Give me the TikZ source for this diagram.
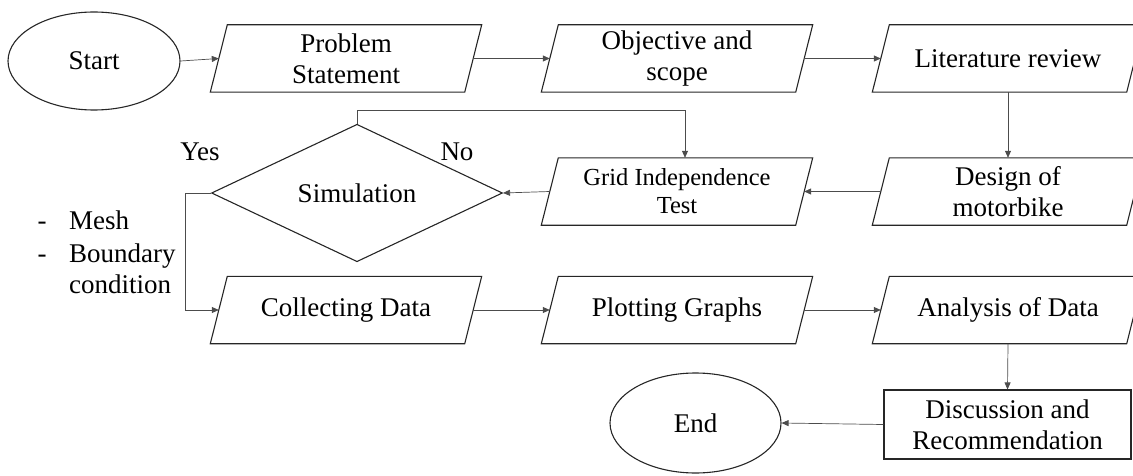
\documentclass[tikz,border=0pt]{standalone}
\usepackage{fontspec}
\setmainfont{Liberation Serif}
\usetikzlibrary{shapes.geometric,arrows.meta}
\begin{document}
\begin{tikzpicture}[x=1pt,y=1pt,
  every node/.style={font=\fontsize{27}{31}\selectfont, text=black},
  para/.style={rectangle, minimum width=254pt, minimum height=67pt, inner sep=0pt, align=center},
  shapeline/.style={draw=black!85, line width=1.1pt},
  oval/.style={ellipse, shapeline, inner sep=0pt},
  arr/.style={draw=black!70, line width=0.7pt, -{Triangle[length=7pt,width=6pt]}},
  lbl/.style={inner sep=0pt}
]
\useasboundingbox (0,0) rectangle (1133,475);
\clip (0,0) rectangle (1133,475);

% nodes
\node[oval, minimum width=172pt, minimum height=98pt] (start) at (94,414) {Start};
\node[para] (ps) at (346,416.5) {Problem\\Statement};
\node[para] (os) at (677,416.5) {Objective and\\scope};
\node[para] (lr) at (1008,416.5) {Literature review};
\node[para, font=\fontsize{24.5}{28}\selectfont] (gi) at (677,283.5) {Grid Independence\\Test};
\node[para] (dm) at (1008,283.5) {Design of\\motorbike};
\node[diamond, shapeline, minimum width=291pt, minimum height=117pt, inner sep=0pt] (sim) at (357,282) {Simulation};
\node[para] (cd) at (346,165) {Collecting Data};
\node[para] (pg) at (677,165) {Plotting Graphs};
\node[para] (ad) at (1008,165) {Analysis of Data};
\node[rectangle, shapeline, minimum width=247pt, minimum height=69pt, inner sep=0pt, align=center] (disc) at (1007.5,50.5) {Discussion and\\Recommendation};
\node[oval, minimum width=171pt, minimum height=100pt] (end) at (695.5,52) {End};

% parallelogram outlines
\foreach \n in {ps,os,lr,gi,dm,cd,pg,ad}
  \draw[shapeline] ([xshift=8.5pt]\n.north west) -- ([xshift=8.5pt]\n.north east)
    -- ([xshift=-8.5pt]\n.south east) -- ([xshift=-8.5pt]\n.south west) -- cycle;

% labels
\node[lbl] (yes) at (200,323) {Yes};
\node[lbl] (no) at (457,323) {No};
\node[lbl, anchor=base] (d1) at (42,246) {-};
\node[lbl, anchor=base] (d2) at (42,213) {-};
\node[lbl, anchor=base west] (mesh) at (69,246) {Mesh};
\node[lbl, anchor=base west] (bnd) at (69,213) {Boundary};
\node[lbl, anchor=base west] (cond) at (69,182) {condition};

% connectors
\coordinate (loopA) at (357,365);
\coordinate (loopB) at (685,365);
\draw[arr] (start.east) -- (ps.west);
\draw[arr] (ps.east) -- (os.west);
\draw[arr] (os.east) -- (lr.west);
\draw[arr] (lr.south) -- (dm.north);
\draw[arr] (dm.west) -- (gi.east);
\draw[arr] (gi.west) -- (sim.east);
\draw[arr] (sim.north) -- (loopA) -- (loopB) -- (loopB |- gi.north);
\draw[arr] (sim.west) -- ++(-26,0) |- (cd.west);
\draw[arr] (cd.east) -- (pg.west);
\draw[arr] (pg.east) -- (ad.west);
\draw[arr] (ad.south) -- (disc.north);
\draw[arr] (disc.west) -- (end.east);
\end{tikzpicture}
\end{document}
